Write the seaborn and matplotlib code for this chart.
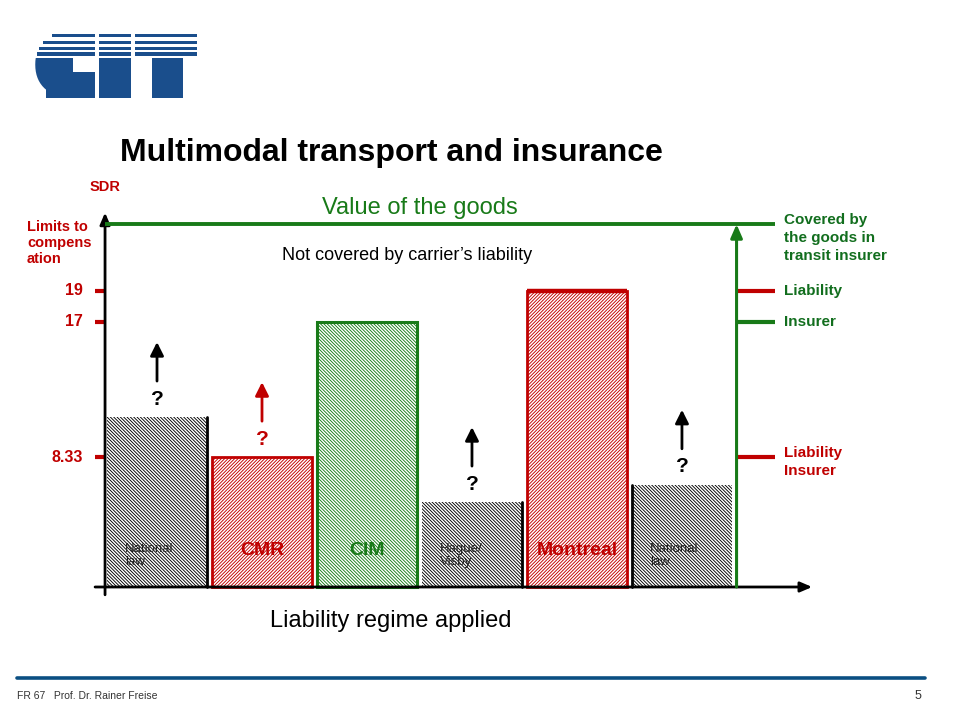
import pandas as pd
import matplotlib.pyplot as plt
import seaborn as sns
from matplotlib.lines import Line2D
from matplotlib.patches import Rectangle

# chart values (SDR per kg)
regimes = ['National law A', 'CMR', 'CIM', 'Hague/Visby', 'Montreal', 'National law B']
bar_labels = ['National\nlaw', 'CMR', 'CIM', 'Hague/\nVisby', 'Montreal', 'National\nlaw']
limits = [10.9, 8.33, 17, 5.45, 19, 6.56]
limit_ticks = [19, 17, 8.33]
limit_tick_labels = ['19', '17', '8.33']
goods_value = 23.3
open_limit = [True, True, False, True, False, True]   # bars with a "?" arrow

right_ticks = [19, 17, 8.33]
right_labels = ['Liability', 'Insurer', 'Liability\nInsurer']

RED = '#c00000'
GREEN = '#187a18'
DKGREEN = '#126e1e'
BLUE = '#1a4e8c'

bar_edge = ['black', RED, GREEN, 'black', RED, 'black']
bar_lw = [0, 2, 2.2, 0, 2, 0]
bar_hatch = ['\\' * 10, '/' * 10, '\\' * 10, '\\' * 10, '/' * 10, '\\' * 10]
label_color = ['#222222', RED, GREEN, '#222222', RED, '#222222']


def px(x, y):
    # pixel position on the 960x720 slide -> figure fraction
    return x / 960, 1 - y / 720


def fig_rect(fig, x0, y0, x1, y1, color, z):
    # rectangle given in slide pixels (top-left origin)
    fig.patches.append(Rectangle((x0 / 960, 1 - y1 / 720), (x1 - x0) / 960,
                                 (y1 - y0) / 720, transform=fig.transFigure,
                                 facecolor=color, edgecolor='none', zorder=z))


def main():
    sns.set_theme(style="white")
    plt.rcParams['font.family'] = ['Liberation Sans', 'DejaVu Sans']
    plt.rcParams['hatch.linewidth'] = 0.65

    df = pd.DataFrame({'regime': regimes, 'limit': limits})

    fig = plt.figure(figsize=(9.6, 7.2), dpi=100)
    fig.patch.set_facecolor('white')
    ax = fig.add_axes([60 / 960, (720 - 607) / 720, 770 / 960, 437 / 720])

    sns.barplot(data=df, x='regime', y='limit', order=regimes, width=0.95,
                color='white', ax=ax, zorder=2)
    ax.set_xlim(-0.924, 6.41)
    ax.set_ylim(-1.282, 26.73)
    ax.axis('off')

    bars = ax.patches[:len(regimes)]
    for i, p in enumerate(bars):
        p.set_facecolor('white')
        p.set_edgecolor(bar_edge[i])
        p.set_linewidth(bar_lw[i])
        p.set_hatch(bar_hatch[i])

    # thick top on Montreal
    m = bars[4]
    ax.plot([m.get_x(), m.get_x() + m.get_width()], [limits[4], limits[4]],
            color=RED, lw=3.2, solid_capstyle='butt', zorder=3)

    # black separators between regimes
    sep = [(bars[0].get_x() + bars[0].get_width(), limits[0]),
           (bars[3].get_x() + bars[3].get_width(), limits[3]),
           (bars[5].get_x(), limits[5])]
    for x, h in sep:
        ax.plot([x, x], [0, h], color='black', lw=2, zorder=3)

    # labels inside the bars
    for i, p in enumerate(bars):
        cx = p.get_x() + p.get_width() / 2
        if '\n' in bar_labels[i]:
            ax.text(p.get_x() + 0.17, 2.0, bar_labels[i], ha='left', va='center',
                    fontsize=9.5, color=label_color[i], linespacing=1.1, zorder=4)
        else:
            ax.text(cx, 2.37, bar_labels[i], ha='center', va='center', fontsize=14,
                    fontweight='bold', color=label_color[i], zorder=4)

    # question marks and arrows above open limits
    for i, p in enumerate(bars):
        if not open_limit[i]:
            continue
        cx = p.get_x() + p.get_width() / 2
        c = RED if i == 1 else 'black'
        ax.text(cx, limits[i] + 1.15, '?', ha='center', va='center', fontsize=15,
                fontweight='bold', color=c)
        ax.annotate('', xy=(cx, limits[i] + 4.8), xytext=(cx, limits[i] + 2.3),
                    arrowprops=dict(arrowstyle='-|>,head_length=0.8,head_width=0.4',
                                    lw=2, color=c, shrinkA=0, shrinkB=0,
                                    mutation_scale=10))

    # axes
    yax = -0.495
    ax.annotate('', xy=(yax, 24.0), xytext=(yax, -0.5),
                arrowprops=dict(arrowstyle='-|>,head_length=0.7,head_width=0.3',
                                lw=2, color='black', shrinkA=0, shrinkB=0,
                                mutation_scale=10), annotation_clip=False)
    ax.annotate('', xy=(6.24, 0), xytext=(-0.59, 0),
                arrowprops=dict(arrowstyle='-|>,head_length=0.7,head_width=0.3',
                                lw=2, color='black', shrinkA=0, shrinkB=0,
                                mutation_scale=10), annotation_clip=False)

    for v, lab in zip(limit_ticks, limit_tick_labels):
        ax.plot([-0.59, yax], [v, v], color=RED, lw=3, solid_capstyle='butt')
        ax.text(-0.705, v, lab, ha='right', va='center', fontsize=11.5,
                fontweight='bold', color=RED)

    ax.text(yax, 25.64, 'SDR', ha='center', va='center', fontsize=10.5,
            fontweight='bold', color=RED)
    fig.text(*px(27, 243), 'Limits to\ncompens\nation', ha='left', va='center',
             fontsize=10.5, fontweight='bold', color=RED, linespacing=1.2)

    # value of the goods and insurer side
    xr = 5.52
    xend = 5.886
    ax.plot([yax, xend], [goods_value, goods_value], color=GREEN, lw=2.8,
            solid_capstyle='butt', zorder=3)
    ax.annotate('', xy=(xr, goods_value - 0.05), xytext=(xr, 0),
                arrowprops=dict(arrowstyle='-|>,head_length=0.8,head_width=0.35',
                                lw=2.2, color=GREEN, shrinkA=0, shrinkB=0,
                                mutation_scale=10))
    for v, lab, c in zip(right_ticks, right_labels, [RED, GREEN, RED]):
        ax.plot([xr, xend], [v, v], color=c, lw=3, solid_capstyle='butt')
        two_lines = '\n' in lab
        ax.text(5.971, v - (0.3 if two_lines else 0), lab, ha='left', va='center',
                fontsize=11, fontweight='bold',
                color=RED if two_lines else DKGREEN,
                linespacing=1.35, clip_on=False)
    ax.text(5.971, 23.95, 'Covered by\nthe goods in\ntransit insurer', ha='left',
            va='top', fontsize=11, fontweight='bold', color=DKGREEN, linespacing=1.35,
            clip_on=False)

    ax.text(2.505, 24.3, 'Value of the goods', ha='center', va='center',
            fontsize=17, color=GREEN)
    ax.text(2.38, 21.25, 'Not covered by carrier\u2019s liability', ha='center',
            va='center', fontsize=13, color='black')
    ax.text(2.23, -2.18, 'Liability regime applied', ha='center', va='center',
            fontsize=17, color='black', clip_on=False)

    # title
    fig.text(*px(120, 153), 'Multimodal transport and insurance', ha='left',
             va='center', fontsize=23, fontweight='bold', color='black')

    # logo: solid lower half as letters, striped upper half
    for letter, xc in [('C', 62), ('I', 115), ('T', 166)]:
        fig.text(*px(xc, 96), letter, ha='center', va='baseline', fontsize=62,
                 fontweight='heavy', color=BLUE, family='DejaVu Sans', zorder=5)
    fig_rect(fig, 25, 20, 205, 58.3, 'white', 10)
    # widen the letter bodies to the logo's block shapes
    fig_rect(fig, 46, 58.3, 73, 97.5, BLUE, 6)
    fig_rect(fig, 60, 72, 95, 97.5, BLUE, 6)
    fig_rect(fig, 99, 58.3, 131, 97.5, BLUE, 6)
    fig_rect(fig, 152, 58.3, 183, 97.5, BLUE, 6)
    stripes = [(34, 37.3), (40.7, 44), (46.7, 50), (52.3, 55.7)]
    c_left = [52, 43, 39, 37]
    for (y0, y1), cl in zip(stripes, c_left):
        fig_rect(fig, cl, y0, 95, y1, BLUE, 11)
        fig_rect(fig, 99, y0, 131, y1, BLUE, 11)
        fig_rect(fig, 135, y0, 197, y1, BLUE, 11)

    # footer
    fig.add_artist(Line2D([17 / 960, 925 / 960], [1 - 678 / 720, 1 - 678 / 720],
                          color='#0b4f82', lw=2.6, transform=fig.transFigure))
    fig.text(*px(17, 696), 'FR 67   Prof. Dr. Rainer Freise', ha='left', va='center',
             fontsize=7.5, color='#333333')
    fig.text(*px(921, 696), '5', ha='right', va='center', fontsize=9, color='#333333')

    fig.savefig('out.png', dpi=100, facecolor='white')


if __name__ == "__main__":
    main()
